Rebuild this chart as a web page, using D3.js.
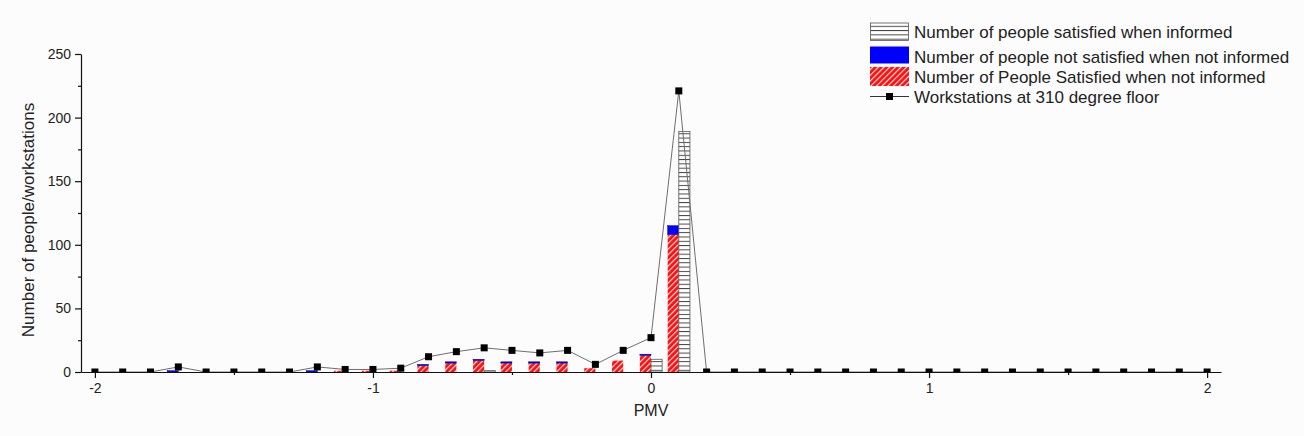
<!DOCTYPE html>
<html>
<head>
<meta charset="utf-8">
<script src="https://cdn.jsdelivr.net/npm/d3@7"></script>
<style>
html,body{margin:0;padding:0;background:#fdfcfc;}
svg{display:block;font-family:"Liberation Sans",Arial,sans-serif;}
</style>
</head>
<body>
<svg id="chart" width="1304" height="436"></svg>
<script>
// PMV categories
const pmv = [-2.0,-1.9,-1.8,-1.7,-1.6,-1.5,-1.4,-1.3,-1.2,-1.1,-1.0,-0.9,-0.8,-0.7,-0.6,-0.5,-0.4,-0.3,-0.2,-0.1,
             0.0,0.1,0.2,0.3,0.4,0.5,0.6,0.7,0.8,0.9,1.0,1.1,1.2,1.3,1.4,1.5,1.6,1.7,1.8,1.9,2.0];
// Number of people satisfied when informed
const satInformed = [0,0,0,0,0,0,0,0,0,0,0,0,0,0,1,0,0,0,0,0,
                     10,189,0,0,0,0,0,0,0,0,0,0,0,0,0,0,0,0,0,0,0];
// Number of People Satisfied when not informed
const satNotInformed = [0,0,0,0,0,0,0,0,0,1,1,1,5,7,9,7,7,7,3,9,
                        13,108,0,0,0,0,0,0,0,0,0,0,0,0,0,0,0,0,0,0,0];
// Number of people not satisfied when not informed
const notSatNotInformed = [0,0,0,1,0,0,0,0,1,0,0,0,1,1,1,1,1,1,0,0,
                           1,7,0,0,0,0,0,0,0,0,0,0,0,0,0,0,0,0,0,0,0];
// Workstations at 310 degree floor
const workstations = [0,0,0,4,0,0,0,0,4,2,2,3,12,16,19,17,15,17,6,17,
                      27,221,0,0,0,0,0,0,0,0,0,0,0,0,0,0,0,0,0,0,0];
const xTicks = [-2,-1,0,1,2];
const xMinorTicks = [-1.5,-0.5,0.5,1.5];
const yTicks = [0,50,100,150,200,250];
const yMinorTicks = [25,75,125,175,225];
const legendLabels = ["Number of people satisfied when informed",
                      "Number of people not satisfied when not informed",
                      "Number of People Satisfied when not informed",
                      "Workstations at 310 degree floor"];
const barWidth = 0.04;

const svg = d3.select("#chart");
const x = d3.scaleLinear().domain([-2.05, 2.05]).range([81, 1221]);
const y = d3.scaleLinear().domain([0, 250]).range([372, 54]);

const defs = svg.append("defs");
const hp = defs.append("pattern").attr("id","hlines").attr("patternUnits","userSpaceOnUse")
  .attr("width",8).attr("height",4.3);
hp.append("rect").attr("width",8).attr("height",4.3).attr("fill","#fff");
hp.append("line").attr("x1",0).attr("x2",8).attr("y1",0.5).attr("y2",0.5).attr("stroke","#333").attr("stroke-width",0.9);
const rp = defs.append("pattern").attr("id","rhatch").attr("patternUnits","userSpaceOnUse")
  .attr("width",4).attr("height",4).attr("patternTransform","rotate(45)");
rp.append("rect").attr("width",4).attr("height",4).attr("fill","#ff1010");
rp.append("line").attr("x1",0.6).attr("x2",0.6).attr("y1",0).attr("y2",4).attr("stroke","#fff").attr("stroke-width",1);
defs.append("clipPath").attr("id","plotclip").append("rect")
  .attr("x",60).attr("y",0).attr("width",1200).attr("height",372);

const data = pmv.map((p,i)=>({p, a:satInformed[i], r:satNotInformed[i], b:notSatNotInformed[i], w:workstations[i]}));

const bars = svg.append("g").attr("clip-path","url(#plotclip)");
// red stacked bars (left of the PMV value)
bars.selectAll(".red").data(data.filter(d=>d.r>0)).join("rect")
  .attr("x",d=>x(d.p-barWidth)).attr("width",d=>x(d.p)-x(d.p-barWidth))
  .attr("y",d=>y(d.r)).attr("height",d=>y(0)-y(d.r)).attr("fill","url(#rhatch)");
bars.selectAll(".blue").data(data.filter(d=>d.b>0)).join("rect")
  .attr("x",d=>x(d.p-barWidth)).attr("width",d=>x(d.p)-x(d.p-barWidth))
  .attr("y",d=>y(d.r+d.b)).attr("height",d=>y(d.r)-y(d.r+d.b))
  .attr("fill","#0000ff").attr("stroke","#000080").attr("stroke-width",0.5);
// white striped bars (right of the PMV value)
bars.selectAll(".white").data(data.filter(d=>d.a>0)).join("rect")
  .attr("x",d=>x(d.p)).attr("width",d=>x(d.p+barWidth)-x(d.p))
  .attr("y",d=>y(d.a)).attr("height",d=>y(0)-y(d.a))
  .attr("fill","url(#hlines)").attr("stroke","#555").attr("stroke-width",0.8);

// line + markers
const lg = svg.append("g").attr("clip-path","url(#plotclip)");
lg.append("path").datum(data)
  .attr("d", d3.line().x(d=>x(d.p)).y(d=>y(d.w)))
  .attr("fill","none").attr("stroke","#6e6e6e").attr("stroke-width",1);
lg.selectAll(".mk").data(data).join("rect")
  .attr("x",d=>x(d.p)-3.5).attr("y",d=>y(d.w)-3.5).attr("width",7).attr("height",7).attr("fill","#000");

// axes
const xAxis = svg.append("g").attr("transform","translate(0,372)")
  .call(d3.axisBottom(x).tickValues(xTicks).tickFormat(d3.format("d")).tickSize(6).tickSizeOuter(0).tickPadding(5));
svg.append("g").attr("transform","translate(0,372)")
  .call(d3.axisBottom(x).tickValues(xMinorTicks).tickFormat("").tickSize(3).tickSizeOuter(0))
  .select(".domain").remove();
const yAxis = svg.append("g").attr("transform","translate(81,0)")
  .call(d3.axisLeft(y).tickValues(yTicks).tickSize(6).tickSizeOuter(0).tickPadding(4));
svg.append("g").attr("transform","translate(81,0)")
  .call(d3.axisLeft(y).tickValues(yMinorTicks).tickFormat("").tickSize(3).tickSizeOuter(0))
  .select(".domain").remove();
svg.selectAll(".tick line, .domain").attr("stroke","#111").attr("stroke-width",1.2);
svg.selectAll(".tick text").attr("font-size",14).attr("fill","#222")
  .attr("font-family","'Liberation Sans',Arial,sans-serif");
xAxis.selectAll(".tick text").text(d=>d<0 ? "-"+Math.abs(d) : d);

svg.append("text").attr("x",651).attr("y",416).attr("text-anchor","middle")
  .attr("font-size",16).attr("fill","#222").text("PMV");
svg.append("text").attr("transform","translate(34,220) rotate(-90)").attr("text-anchor","middle")
  .attr("font-size",17).attr("fill","#222").text("Number of people/workstations");

// legend
const leg = svg.append("g");
const rows = [23, 46.5, 67, 96.5];
leg.append("rect").attr("x",870.5).attr("y",rows[0]).attr("width",38).attr("height",17.5)
  .attr("fill","url(#hlines)").attr("stroke","#555").attr("stroke-width",0.8);
leg.append("rect").attr("x",870).attr("y",rows[1]).attr("width",39).attr("height",17)
  .attr("fill","#0000ff");
leg.append("rect").attr("x",870).attr("y",rows[2]).attr("width",39).attr("height",19)
  .attr("fill","url(#rhatch)");
leg.append("line").attr("x1",870).attr("x2",909).attr("y1",rows[3]).attr("y2",rows[3])
  .attr("stroke","#333").attr("stroke-width",1);
leg.append("rect").attr("x",886).attr("y",rows[3]-3.5).attr("width",7).attr("height",7).attr("fill","#000");
const textY = [31.5, 56.5, 76.5, 96.5];
leg.selectAll(".lt").data(legendLabels).join("text")
  .attr("x",914).attr("y",(d,i)=>textY[i]).attr("dy","0.36em")
  .attr("font-size",17).attr("fill","#222").text(d=>d);
</script>
</body>
</html>
